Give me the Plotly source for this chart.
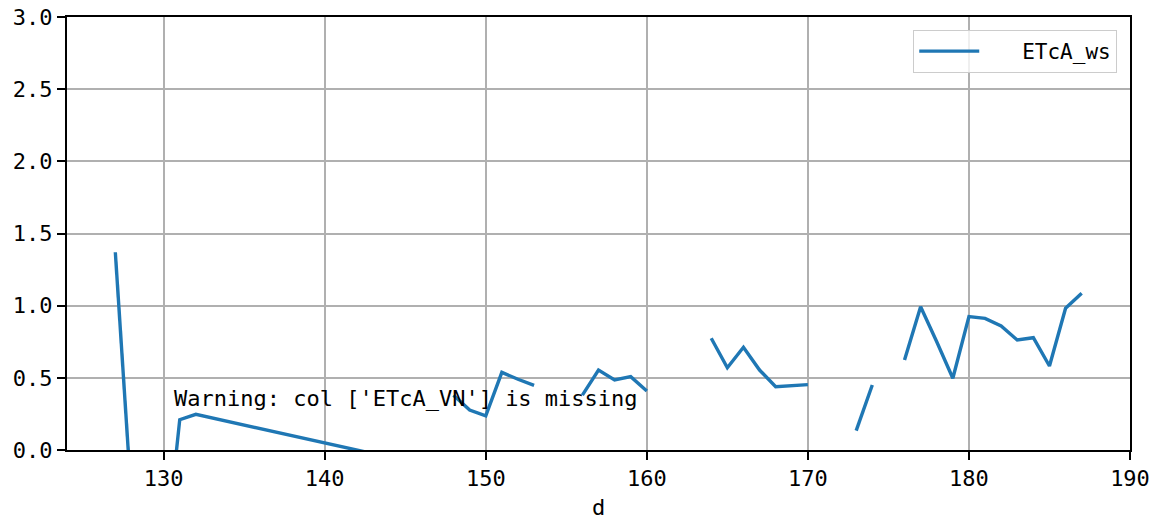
import plotly.graph_objects as go

# Day index (d) and ETcA_ws values; None marks missing rows (line breaks).
days = [127, 128, 129, 130, 131, 132, 143, 144,
        148, 149, 150, 151, 152, 153, 154,
        156, 157, 158, 159, 160, 161,
        164, 165, 166, 167, 168, 169, 170, 171,
        173, 174, 175,
        176, 177, 178, 179, 180, 181, 182, 183, 184, 185, 186, 187]
etca_ws = [1.37, -0.34, None, -0.84, 0.21, 0.247, -0.025, None,
           0.38, 0.277, 0.236, 0.538, 0.49, 0.448, None,
           0.38, 0.554, 0.485, 0.508, 0.409, None,
           0.774, 0.57, 0.712, 0.554, 0.439, 0.446, 0.453, None,
           0.134, 0.45, None,
           0.624, 0.993, 0.75, 0.497, 0.924, 0.912, 0.859, 0.762, 0.778, 0.582, 0.982, 1.086]

series_name = "ETcA_ws"
warning_text = "Warning: col ['ETcA_VN'] is missing"
x_ticks = [130, 140, 150, 160, 170, 180, 190]
y_ticks = [0.0, 0.5, 1.0, 1.5, 2.0, 2.5, 3.0]

FONT = "DejaVu Sans Mono"

fig = go.Figure()
fig.add_trace(go.Scatter(
    x=days, y=etca_ws, mode="lines", name="\u00a0\u00a0\u00a0" + series_name,
    line=dict(color="#1f77b4", width=3.4), connectgaps=False,
))

fig.add_annotation(
    x=130.55, y=0.36, xref="x", yref="y", text=warning_text,
    showarrow=False, xanchor="left", yanchor="middle",
    font=dict(family=FONT, size=22, color="black"),
)

axis_common = dict(
    showline=True, linecolor="black", linewidth=2, mirror=True,
    ticks="outside", ticklen=8, tickwidth=1.5, tickcolor="black",
    showgrid=True, gridcolor="#b0b0b0", gridwidth=1.5,
    zeroline=False, automargin=False,
    tickfont=dict(family=FONT, size=22, color="black"),
)

fig.update_xaxes(range=[124, 190], tickvals=x_ticks,
                 title=dict(text="d", font=dict(family=FONT, size=22, color="black"), standoff=14),
                 **axis_common)
fig.update_yaxes(range=[0, 3], tickvals=y_ticks, tickformat=".1f", **axis_common)

fig.update_layout(
    width=1152, height=520,
    margin=dict(l=67, r=22, t=17, b=70),
    plot_bgcolor="white", paper_bgcolor="white",
    showlegend=True,
    legend=dict(x=0.988, y=0.97, xanchor="right", yanchor="top",
                bgcolor="rgba(255,255,255,0.8)", bordercolor="#cccccc", borderwidth=1,
                font=dict(family=FONT, size=21, color="black"),
                itemwidth=60),
    font=dict(family=FONT),
)

fig.write_html("out.html", config={"displayModeBar": False},
               post_script="document.body.style.margin='0';")
